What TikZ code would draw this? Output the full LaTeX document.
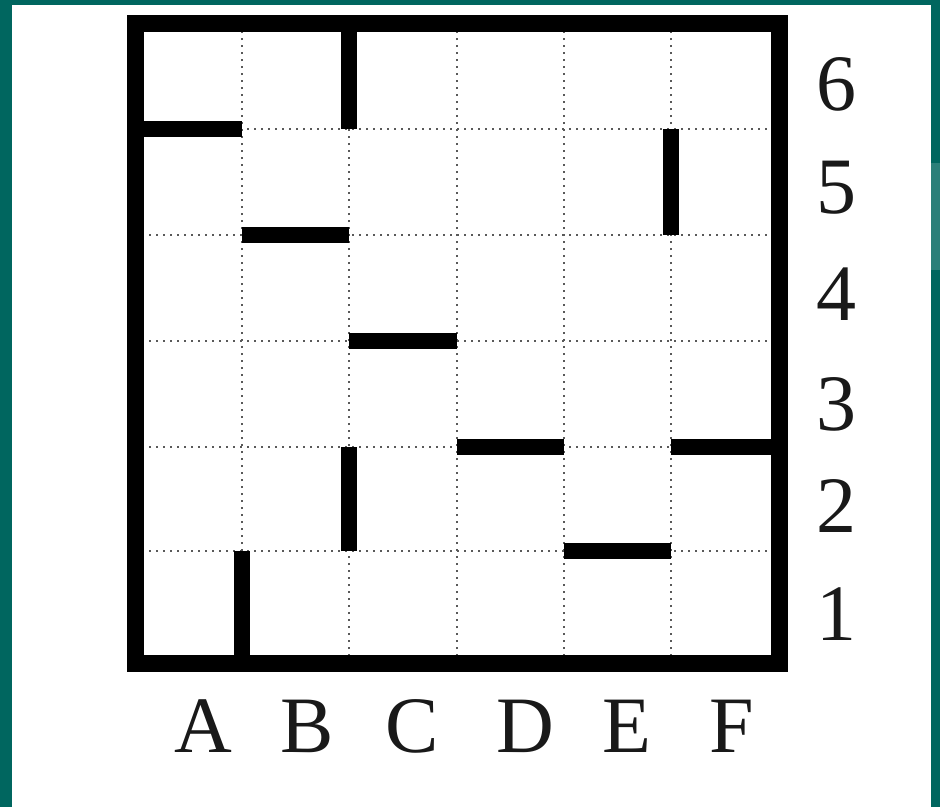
\documentclass[tikz,border=0pt]{standalone}
\usepackage{fontspec}
\setmainfont{Liberation Serif}
\definecolor{tealdark}{HTML}{00665F}
\definecolor{teallight}{HTML}{2B7F79}
\begin{document}
\begin{tikzpicture}[x=1pt,y=-1pt,
  wall/.style={line width=16pt, line cap=butt, black},
  border/.style={line width=17pt, black, line join=miter},
  gridline/.style={line width=2pt, black!65, dash pattern=on 2pt off 5pt},
  lbl/.style={font=\fontsize{80}{80}\selectfont, anchor=base, inner sep=0pt, text=black!90}]
\useasboundingbox (0,0) rectangle (940,807);
\fill[tealdark] (0,0) rectangle (940,807);
\fill[teallight] (931,163) rectangle (940,270);
\fill[white] (12,5) rectangle (931,807);
\foreach \i/\x in {0/135,1/242,2/349,3/457,4/564,5/671,6/779}
  \foreach \j/\y in {0/663,1/551,2/447,3/341,4/235,5/129,6/23}
    \coordinate (g\i\j) at (\x,\y);
% dotted grid
\foreach \i in {1,...,5} {
  \draw[gridline] (g\i0) -- (g\i6);
  \draw[gridline] (g0\i) -- (g6\i);
}
% interior walls
\draw[wall] (g25) -- (g26);
\draw[wall] (g05) -- (g15);
\draw[wall] (g14) -- (g24);
\draw[wall] (g54) -- (g55);
\draw[wall] (g23) -- (g33);
\draw[wall] (g32) -- (g42);
\draw[wall] (g52) -- (g62);
\draw[wall] (g21) -- (g22);
\draw[wall] (g41) -- (g51);
\draw[wall] (g10) -- (g11);
% outer border
\draw[border] (g00) rectangle (g66);
% column labels
\node[lbl] (colA) at (203,752) {A};
\node[lbl] (colB) at (307,752) {B};
\node[lbl] (colC) at (412,752) {C};
\node[lbl] (colD) at (525,752) {D};
\node[lbl] (colE) at (627,752) {E};
\node[lbl] (colF) at (732,752) {F};
% row labels
\node[lbl] (row6) at (836,110) {6};
\node[lbl] (row5) at (836,213) {5};
\node[lbl] (row4) at (836,320) {4};
\node[lbl] (row3) at (836,430) {3};
\node[lbl] (row2) at (836,532) {2};
\node[lbl] (row1) at (836,640) {1};
\end{tikzpicture}
\end{document}
